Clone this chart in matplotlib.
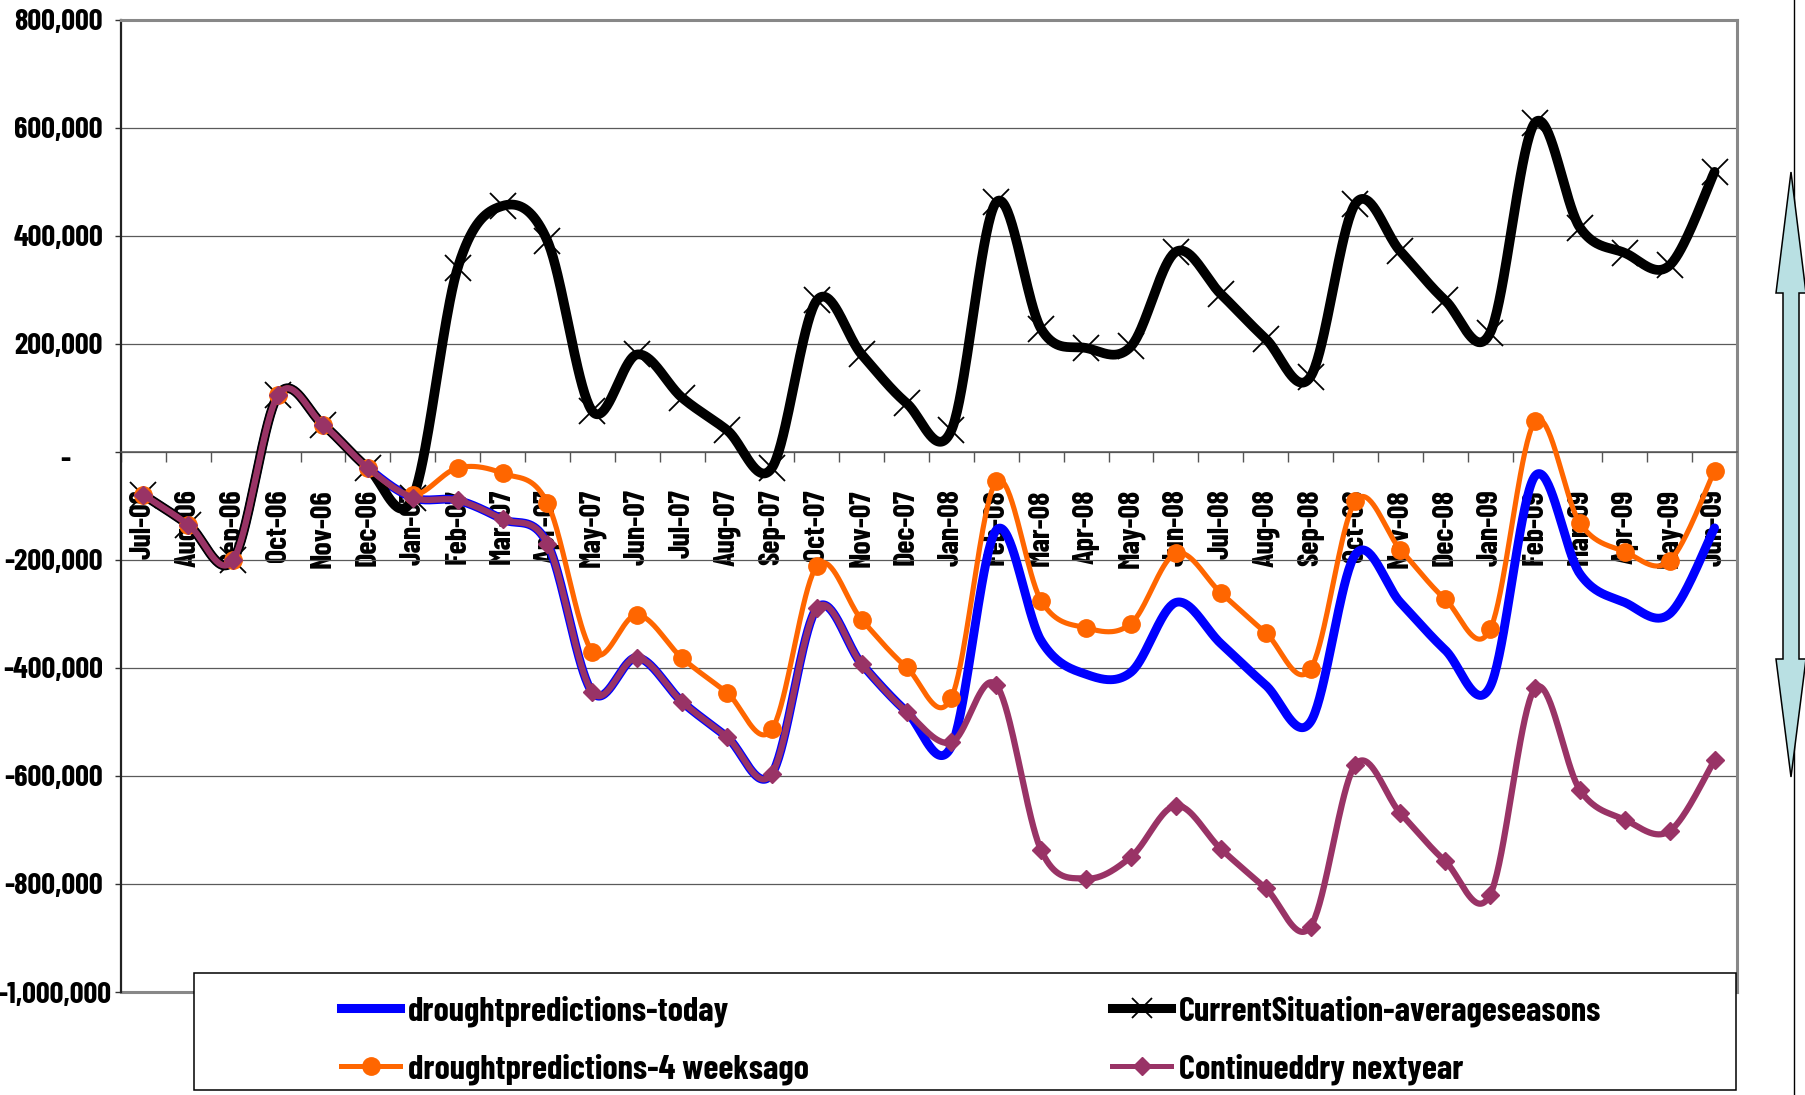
import numpy as np
import matplotlib
matplotlib.use('Agg')
import matplotlib.pyplot as plt
from matplotlib import font_manager as fm
from matplotlib.transforms import ScaledTranslation
from matplotlib.lines import Line2D
from matplotlib.patches import Polygon, Rectangle
from matplotlib.textpath import TextPath

# ---------------- data ----------------
months = ['Jul-06', 'Aug-06', 'Sep-06', 'Oct-06', 'Nov-06', 'Dec-06',
          'Jan-07', 'Feb-07', 'Mar-07', 'Apr-07', 'May-07', 'Jun-07',
          'Jul-07', 'Aug-07', 'Sep-07', 'Oct-07', 'Nov-07', 'Dec-07',
          'Jan-08', 'Feb-08', 'Mar-08', 'Apr-08', 'May-08', 'Jun-08',
          'Jul-08', 'Aug-08', 'Sep-08', 'Oct-08', 'Nov-08', 'Dec-08',
          'Jan-09', 'Feb-09', 'Mar-09', 'Apr-09', 'May-09', 'Jun-09']

drought_today = [-80000, -135000, -200000, 105000, 50000, -30000,
                 -85000, -90000, -125000, -170000, -445000, -381000,
                 -463000, -528000, -596000, -290000, -393000, -481000,
                 -545000, -145000, -350000, -412000, -408000, -279000,
                 -355000, -432000, -500000, -190000, -279000, -367000,
                 -435000, -45000, -226000, -279000, -300000, -141000]

current_situation = [-80000, -135000, -200000, 105000, 50000, -30000,
                     -85000, 340000, 455000, 390000, 75000, 180000,
                     100000, 40000, -30000, 280000, 180000, 90000,
                     40000, 462000, 227000, 192000, 195000, 370000,
                     292000, 209000, 139000, 459000, 371000, 280000,
                     220000, 609000, 415000, 368000, 345000, 518000]

four_weeks_ago = [-80000, -135000, -200000, 105000, 50000, -30000,
                  -80000, -30000, -40000, -95000, -370000, -302000,
                  -382000, -446000, -514000, -212000, -311000, -399000,
                  -455000, -55000, -276000, -326000, -318000, -188000,
                  -261000, -335000, -402000, -91000, -181000, -273000,
                  -329000, 56000, -132000, -185000, -202000, -35000]

continued_dry = [-80000, -135000, -200000, 105000, 50000, -30000,
                 -85000, -90000, -125000, -170000, -445000, -381000,
                 -463000, -528000, -596000, -290000, -393000, -481000,
                 -538000, -432000, -738000, -790000, -750000, -655000,
                 -735000, -808000, -879000, -579000, -669000, -758000,
                 -820000, -438000, -626000, -681000, -702000, -571000]

y_ticks = [800000, 600000, 400000, 200000, 0, -200000, -400000,
           -600000, -800000, -1000000]
y_tick_labels = ['800,000', '600,000', '400,000', '200,000', '-',
                 '-200,000', '-400,000', '-600,000', '-800,000', '-1,000,000']

legend_labels = ['droughtpredictions-today', 'droughtpredictions-4 weeksago',
                 'CurrentSituation-averageseasons', 'Continueddry nextyear']

# ---------------- fonts ----------------
bold_fams = set()
for f in fm.fontManager.ttflist:
    try:
        w = int(f.weight)
    except (TypeError, ValueError):
        w = 700 if 'bold' in str(f.weight).lower() else 400
    if w >= 600:
        bold_fams.add(f.name)

chosen = None
for cand in ['Liberation Sans Narrow', 'Arial Narrow', 'Barlow Condensed',
             'PT Sans Narrow', 'Fira Sans Extra Condensed', 'Roboto Condensed']:
    if cand in bold_fams:
        chosen = cand
        break
FAM = [chosen, 'DejaVu Sans'] if chosen else ['DejaVu Sans']

plt.rcParams['font.family'] = FAM
plt.rcParams['font.weight'] = 'bold'


def size_for(text, target_px):
    prop = fm.FontProperties(family=FAM, weight='bold', size=100)
    ext = TextPath((0, 0), text, prop=prop).get_extents()
    return 100 * target_px / (ext.width * 100 / 72.0)


fs_y = size_for('800,000', 87)
fs_x = size_for('Oct-06', 71)
fs_leg = size_for('droughtpredictions-today', 320)

W, H = 1805, 1095
fig = plt.figure(figsize=(W / 100, H / 100), dpi=100)
fig.patch.set_facecolor('white')


def fx(px):
    return px / W


def fy(py):
    return 1 - py / H


ax_l, ax_r, ax_t, ax_b = 121, 1737, 19.5, 992
ax = fig.add_axes([fx(ax_l), fy(ax_b), fx(ax_r - ax_l), (ax_b - ax_t) / H])
ax.set_axisbelow(True)


def smooth(xv, yv, n=40):
    P = np.column_stack([np.asarray(xv, float), np.asarray(yv, float)])
    out = []
    m = len(P)
    for i in range(m - 1):
        p0 = P[i - 1] if i > 0 else P[i]
        p1, p2 = P[i], P[i + 1]
        p3 = P[i + 2] if i + 2 < m else P[i + 1]
        c1 = p1 + (p2 - p0) / 6.0
        c2 = p2 - (p3 - p1) / 6.0
        t = np.linspace(0, 1, n, endpoint=(i == m - 2))[:, None]
        out.append((1 - t) ** 3 * p1 + 3 * (1 - t) ** 2 * t * c1
                   + 3 * (1 - t) * t ** 2 * c2 + t ** 3 * p2)
    return np.vstack(out)


x = np.arange(len(months))

BLUE, BLACK, ORANGE, PURPLE = '#0000ff', '#000000', '#ff6600', '#993366'


def series(y, color, lw, z, marker=None, ms=0, mew=1.0, mfc=None, mec=None):
    s = smooth(x, y)
    ax.plot(s[:, 0], s[:, 1], color=color, lw=lw, zorder=z,
            solid_capstyle='round', solid_joinstyle='round')
    if marker:
        ax.plot(x, y, ls='none', marker=marker, ms=ms, mew=mew,
                mfc=mfc, mec=mec, zorder=z + 0.05)


series(drought_today, BLUE, 6.4, 2)
series(current_situation, BLACK, 7.0, 3, marker='x', ms=19, mew=1.3, mec=BLACK)
series(four_weeks_ago, ORANGE, 3.7, 4, marker='o', ms=12.5, mfc=ORANGE, mec=ORANGE)
series(continued_dry, PURPLE, 4.5, 5, marker='D', ms=9.5, mfc=PURPLE, mec=PURPLE)

ax.set_xlim(-0.5, len(months) - 0.5)
ax.set_ylim(-1000000, 800000)

# y axis
ax.set_yticks(y_ticks)
ax.set_yticklabels(y_tick_labels, fontsize=fs_y, fontweight='bold')
ax.tick_params(axis='y', direction='out', length=4, width=1, color='#333333', pad=9)
ax.yaxis.grid(True, color='#5a5a5a', lw=0.9)
for lab, v in zip(ax.get_yticklabels(), y_ticks):
    if v == 0:
        lab.set_transform(lab.get_transform() +
                          ScaledTranslation(-0.33, -0.06, fig.dpi_scale_trans))
    elif v == -1000000:
        lab.set_transform(lab.get_transform() +
                          ScaledTranslation(0.08, 0, fig.dpi_scale_trans))

# x axis at zero
ax.spines['bottom'].set_position(('data', 0))
ax.spines['bottom'].set_color('#555555')
ax.spines['bottom'].set_linewidth(1.1)
ax.set_xticks(np.arange(-0.5, len(months), 1.0))
ax.set_xticklabels([])
ax.set_xticks(x, minor=True)
ax.set_xticklabels(months, minor=True, rotation=90, fontsize=fs_x,
                   fontweight='bold')
ax.tick_params(axis='x', which='major', direction='out', length=7, width=1,
               color='#555555')
ax.tick_params(axis='x', which='minor', length=0, pad=27)

ax.spines['left'].set_color('#222222')
ax.spines['left'].set_linewidth(1.6)
for sp in ('top', 'right'):
    ax.spines[sp].set_color('#888888')
    ax.spines[sp].set_linewidth(2.2)
ax.axhline(-1000000, color='#888888', lw=2.2, zorder=1, clip_on=False)

# ---------------- legend ----------------
fig.add_artist(Rectangle((fx(194), fy(1090)), fx(1736 - 194), (1090 - 973) / H,
                         transform=fig.transFigure, facecolor='white',
                         edgecolor='black', lw=1.1, zorder=4))

em = fs_leg * 100 / 72.0
handles = [Line2D([], [], color=BLUE, lw=6.5),
           Line2D([], [], color=ORANGE, lw=3.6, marker='o', ms=12.5),
           Line2D([], [], color=BLACK, lw=6.5, marker='x', ms=15, mew=1.3),
           Line2D([], [], color=PURPLE, lw=3.6, marker='D', ms=9)]
positions = [(341, 1011), (341, 1069), (1112, 1011), (1112, 1069)]
for h, lab, (px, py) in zip(handles, legend_labels, positions):
    lg = fig.legend([h], [lab], loc='center left', frameon=False, borderpad=0,
                    borderaxespad=0, handlelength=59 / em,
                    handletextpad=8 / em,
                    prop=fm.FontProperties(family=FAM, weight='bold', size=fs_leg),
                    bbox_to_anchor=(fx(px), fy(py)))
    lg.set_zorder(6)

# ---------------- right-hand decoration ----------------
fig.add_artist(Line2D([fx(1794), fx(1794)], [0, 1], transform=fig.transFigure,
                      color='black', lw=1.0, zorder=6))
arrow_px = [(1791, 172), (1806, 293), (1799, 293), (1799, 659), (1806, 659),
            (1791, 777), (1776, 659), (1783, 659), (1783, 293), (1776, 293)]
fig.add_artist(Polygon([(fx(a), fy(b)) for a, b in arrow_px], closed=True,
                       transform=fig.transFigure, facecolor='#b9e0e3',
                       edgecolor='black', lw=1.1, zorder=7))

fig.savefig('out.png', dpi=100, facecolor='white')
